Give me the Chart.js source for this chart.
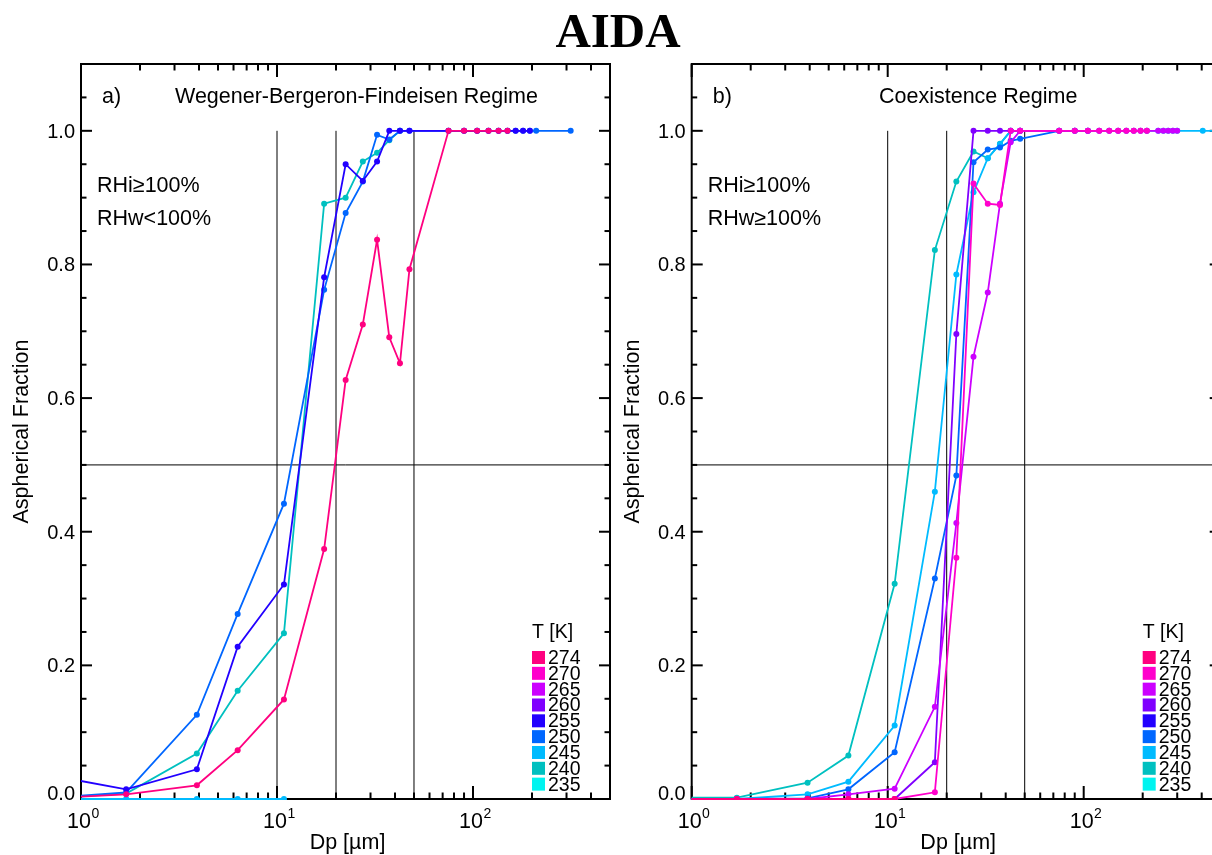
<!DOCTYPE html>
<html>
<head>
<meta charset="utf-8">
<script src="https://cdn.jsdelivr.net/npm/chart.js@4/dist/chart.umd.min.js"></script>
<style>
  html, body { margin: 0; padding: 0; background: #fff; overflow: hidden; width: 1212px; height: 855px; }
  body { position: relative; }
  canvas { position: absolute; top: 0; }
  #title {
    position: absolute; left: 468px; top: 6px; width: 300px; text-align: center;
    font: bold 49px "Liberation Serif", "Times New Roman", serif; line-height: 49px; color: #000;
  }
</style>
</head>
<body>
<div id="title">AIDA</div>
<canvas id="panelA" width="616" height="855" style="left:0px"></canvas>
<canvas id="panelB" width="620" height="855" style="left:616px"></canvas>
<script>
// Temperatures of the runs (legend order) and their colours
const temperatures = ['274', '270', '265', '260', '255', '250', '245', '240', '235'];
const seriesColors = ['#ff0080', '#ff00cc', '#cc00ff', '#8000ff', '#2200ff', '#0066ff', '#00bbff', '#00c0c0', '#00f4f0'];

// Particle diameter bins Dp [µm]
const dpBins = [0.6, 1.7, 3.9, 6.3, 10.85, 17.4, 22.4, 27.4, 32.4, 37.4, 42.4, 47.4,
                75, 90, 105, 120, 135, 150, 165, 180, 195, 210, 240, 255, 270, 285, 300, 315, 405, 480];

// a) Wegener-Bergeron-Findeisen regime: aspherical fraction per bin (null = no data)
const wbf274 = [0, 0.007, 0.0205, 0.073, 0.149, 0.374, 0.627, 0.710, 0.837, 0.691, 0.652, 0.793,
                1, 1, 1, 1, 1, 1, null, null, null, null, null, null, null, null, null, null, null, null];
const wbf270 = [];
const wbf265 = [];
const wbf260 = [];
const wbf255 = [0.039, 0.0145, 0.0444, 0.228, 0.321, 0.781, 0.950, 0.925, 0.954, 1, 1, 1,
                1, 1, 1, 1, 1, 1, 1, 1, 1, null, null, null, null, null, null, null, null, null];
const wbf250 = [0, 0.010, 0.126, 0.277, 0.442, 0.762, 0.877, 0.924, 0.994, 0.987, 1, 1,
                1, 1, 1, 1, 1, 1, 1, 1, 1, 1, null, null, null, null, null, 1, null, null];
const wbf245 = [0, 0, 0, 0, 0];
const wbf240 = [0, 0.008, 0.068, 0.162, 0.248, 0.891, 0.900, 0.954, 0.967, 0.986, 1];
const wbf235 = [];

// b) Coexistence regime
const coex274 = [0, 0, 0, 0, 0];
const coex270 = [0, 0, 0, 0, 0, 0.010, 0.361, 0.921, 0.891, 0.889, 1, 1,
                 1, 1, 1, 1, 1, 1, 1, 1, 1, 1];
const coex265 = [0, 0, 0, 0.007, 0.0155, 0.138, 0.413, 0.662, 0.758, 0.891, 0.983, 1,
                 1, 1, 1, 1, 1, 1, 1, 1, 1, 1, 1, 1, 1, 1, 1];
const coex260 = [0, 0, 0, 0, 0, 0.055, 0.696, 1, 1, 1, 1, 1];
const coex255 = [];
const coex250 = [0, 0, 0.001, 0.0145, 0.070, 0.330, 0.484, 0.953, 0.972, 0.975, 0.985, 0.988,
                 1, 1, 1];
const coex245 = [0, 0, 0.007, 0.026, 0.110, 0.460, 0.785, 0.908, 0.959, 0.980, 1, 1,
                 1, 1, 1, 1, 1, 1, 1, 1, 1, 1, 1, 1, 1, 1, 1, null, 1, 1];
const coex240 = [0.002, 0.002, 0.0244, 0.065, 0.322, 0.8215, 0.924, 0.969, 0.959, 0.9805, 1, 1];
const coex235 = [];

// Axis ticks and labels
const xDecades = [1, 10, 100];
const xExponents = ['0', '1', '2'];
const yMajorTicks = [0, 0.2, 0.4, 0.6, 0.8, 1.0];
const yTickLabels = ['0.0', '0.2', '0.4', '0.6', '0.8', '1.0'];
const yMinorStep = 0.05;

// Reference lines: diameters 10, 20, 50 µm and the 50 % level
const refDiameters = [10, 20, 50];
const refFraction = 0.5;
const refTopFraction = 1.0;

const FONT = '"Liberation Sans", Arial, Helvetica, sans-serif';

function buildDatasets(seriesList) {
  return temperatures.map((t, i) => {
    const vals = seriesList[i];
    const pts = [];
    vals.forEach((v, j) => { if (v !== null && v !== undefined) pts.push({ x: dpBins[j], y: v }); });
    return {
      label: t + ' K',
      data: pts,
      borderColor: seriesColors[i],
      backgroundColor: seriesColors[i],
      pointBackgroundColor: seriesColors[i],
      pointBorderWidth: 0,
      pointRadius: 3,
      borderWidth: 1.8,
      tension: 0,
      clip: { left: 0, top: 5, right: 0, bottom: 1 }
    };
  });
}

function strokeLine(ctx, x1, y1, x2, y2) {
  ctx.beginPath(); ctx.moveTo(x1, y1); ctx.lineTo(x2, y2); ctx.stroke();
}

// Box, inward ticks, labels and legend in the style of an IDL plot
const idlFrame = {
  id: 'idlFrame',
  beforeDatasetsDraw(chart, args, o) {
    const { ctx, chartArea: a, scales: { x, y } } = chart;
    ctx.save();
    ctx.strokeStyle = '#000';
    ctx.fillStyle = '#000';

    // reference lines
    ctx.lineWidth = 1;
    const yTop = y.getPixelForValue(refTopFraction);
    refDiameters.forEach(d => {
      const px = x.getPixelForValue(d);
      strokeLine(ctx, px, a.bottom, px, yTop);
    });
    const py0 = y.getPixelForValue(refFraction);
    strokeLine(ctx, a.left, py0, a.right, py0);

    // box
    ctx.lineWidth = 2;
    ctx.strokeRect(a.left, a.top, a.right - a.left, a.bottom - a.top);

    // x ticks (inward, top and bottom)
    xDecades.forEach(dec => {
      for (let m = 1; m < 10; m++) {
        const v = dec * m;
        if (v > x.max) break;
        const px = x.getPixelForValue(v);
        const len = m === 1 ? 13 : 6.5;
        strokeLine(ctx, px, a.bottom, px, a.bottom - len);
        strokeLine(ctx, px, a.top, px, a.top + len);
      }
    });
    // y ticks (inward, left and right)
    const nMinor = Math.round(y.max / yMinorStep);
    for (let k = 0; k < nMinor; k++) {
      const v = k * yMinorStep;
      const py = y.getPixelForValue(v);
      const len = (k % 4 === 0) ? 11 : 5.5;
      strokeLine(ctx, a.left, py, a.left + len, py);
      strokeLine(ctx, a.right, py, a.right - len, py);
    }

    // y tick labels
    ctx.font = '20px ' + FONT;
    ctx.textAlign = 'right';
    ctx.textBaseline = 'alphabetic';
    yMajorTicks.forEach((v, i) => {
      const py = y.getPixelForValue(v);
      ctx.fillText(yTickLabels[i], a.left - 6, Math.min(py + 7, a.bottom + 1));
    });

    // x tick labels 10^n
    ctx.textAlign = 'left';
    xDecades.forEach((dec, i) => {
      const px = x.getPixelForValue(dec);
      ctx.font = '21.5px ' + FONT;
      const w = ctx.measureText('10').width;
      const x0 = px - 14;
      ctx.fillText('10', x0, 828);
      ctx.font = '14px ' + FONT;
      ctx.fillText(xExponents[i], x0 + w + 0.5, 818);
    });

    // axis titles
    ctx.font = '21.5px ' + FONT;
    ctx.textAlign = 'center';
    ctx.fillText('Dp [\u00b5m]', (a.left + a.right) / 2 + 2, 849);
    ctx.save();
    ctx.translate(a.left - 58.5, (a.top + a.bottom) / 2);
    ctx.rotate(-Math.PI / 2);
    ctx.textBaseline = 'middle';
    ctx.fillText('Aspherical Fraction', 0, 0);
    ctx.restore();

    // panel annotations
    ctx.textAlign = 'left';
    ctx.textBaseline = 'alphabetic';
    ctx.font = '21.5px ' + FONT;
    ctx.fillText(o.tag, a.left + 21, 103);
    ctx.fillText(o.regime, a.left + o.regimeOffset, 103);
    ctx.fillText(o.rhIce, a.left + 16, 192);
    ctx.fillText(o.rhWater, a.left + 16, 225);

    // temperature legend
    const lx = a.left + 451;
    ctx.font = '19.5px ' + FONT;
    ctx.fillText('T [K]', lx, 638);
    temperatures.forEach((t, i) => {
      const top = 651 + i * 15.83;
      ctx.fillStyle = seriesColors[i];
      ctx.fillRect(lx, top, 13, 13);
      ctx.fillStyle = '#000';
      ctx.fillText(t, lx + 16, top + 13);
    });
    ctx.restore();
  }
};

function makeChart(canvasId, seriesList, padding, annot) {
  return new Chart(document.getElementById(canvasId), {
    type: 'line',
    data: { datasets: buildDatasets(seriesList) },
    options: {
      responsive: false,
      animation: false,
      devicePixelRatio: 1,
      layout: { padding },
      scales: {
        x: { type: 'logarithmic', min: 1, max: 500, display: false },
        y: { type: 'linear', min: 0, max: 1.1, display: false }
      },
      plugins: {
        legend: { display: false },
        tooltip: { enabled: false },
        idlFrame: annot
      }
    },
    plugins: [idlFrame]
  });
}

makeChart('panelA',
  [wbf274, wbf270, wbf265, wbf260, wbf255, wbf250, wbf245, wbf240, wbf235],
  { left: 81, top: 64, right: 6, bottom: 56 },
  { tag: 'a)', regime: 'Wegener-Bergeron-Findeisen Regime', regimeOffset: 94,
    rhIce: 'RHi\u2265100%', rhWater: 'RHw<100%' });

makeChart('panelB',
  [coex274, coex270, coex265, coex260, coex255, coex250, coex245, coex240, coex235],
  { left: 75.7, top: 64, right: 15.3, bottom: 56 },
  { tag: 'b)', regime: 'Coexistence Regime', regimeOffset: 187.3,
    rhIce: 'RHi\u2265100%', rhWater: 'RHw\u2265100%' });
</script>
</body>
</html>
